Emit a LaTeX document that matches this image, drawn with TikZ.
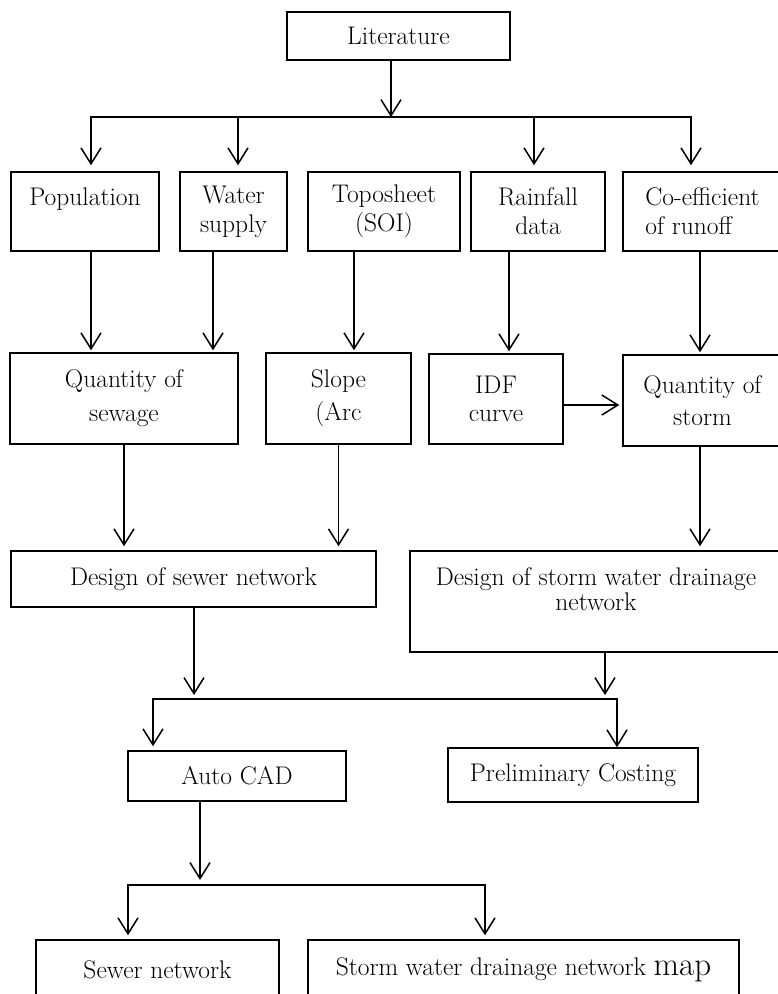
\documentclass[tikz,border=0pt]{standalone}
\usepackage{fontspec}
\usepackage{tikz}
\usetikzlibrary{positioning,arrows.meta}
\tikzset{
	stage/.style={draw=black,line width=1.5pt,inner sep=0pt,align=center,font=\fontsize{25.5}{29}\selectfont},
	flow/.style={-{Straight Barb[length=16pt,width=20pt]},line width=1.5pt},
	link/.style={line width=1.5pt,line cap=rect}
}

\begin{document}
\begin{tikzpicture}[x=1pt,y=-1pt]
				
				\useasboundingbox (0,0) rectangle (778,994);
				
				\node[stage,minimum width=223pt,minimum height=48pt] (L) at (398.5,36) {Literature};
				
				\node[stage,minimum width=148pt,minimum height=79pt] (PO) at (85,211.5) {Population\\\mbox{}};
				\node[stage,minimum width=107pt,minimum height=79pt] (WS) at (233.5,211.5) {Water\\supply};
				\node[stage,minimum width=152pt,minimum height=79pt] (TS) at (384,211.5) {Toposheet\\(SOI)};
				\node[stage,minimum width=134pt,minimum height=79pt] (RD) at (538,211.5) {Rainfall\\data};
				\node[stage,align=left,minimum width=159pt,minimum height=79pt] (CR) at (702.5,211.5) {Co-efficient\\of runoff};
				
				\node[stage,font=\fontsize{25.5}{34}\selectfont,minimum width=228pt,minimum height=91pt] (QS) at (124,398.5) {Quantity of\\sewage};
				\node[stage,font=\fontsize{25.5}{33}\selectfont,minimum width=145pt,minimum height=91pt] (SL) at (338.5,398.5) {Slope\\(Arc};
				\node[stage,font=\fontsize{25.5}{28}\selectfont,minimum width=134pt,minimum height=90pt] (IDF) at (496,399) {IDF\\curve};
				\node[stage,font=\fontsize{25.5}{32}\selectfont,minimum width=159pt,minimum height=91pt] (QST) at (702.5,400.5) {Quantity of\\storm};
				
				\node[stage,minimum width=365pt,minimum height=56pt] (DS) at (193.5,579) {Design of sewer network};
				\node[stage,font=\fontsize{25.5}{25}\selectfont,minimum width=372pt,minimum height=101pt] (DSW) at (596,601.5) {Design of storm water drainage\\network\\\mbox{}};
				
				\node[stage,minimum width=218pt,minimum height=50pt] (AC) at (237,776) {Auto CAD};
				\node[stage,minimum width=250pt,minimum height=54pt] (PC) at (573,775) {Preliminary Costing};
				
				\node[stage,minimum width=243pt,minimum height=60pt] (SN) at (157.5,970) {Sewer network};
				\node[stage,minimum width=431pt,minimum height=60pt] (SM) at (523.5,970) {Storm water drainage network {\fontsize{33}{33}\selectfont map}};
				
				\coordinate (J1) at (391,117);
				\coordinate (B1) at (91,117);
				\coordinate (B2) at (238,117);
				\coordinate (B3) at (534,117);
				\coordinate (B4) at (691,117);
				\coordinate (J2) at (194,699);
				\coordinate (K1) at (153,699);
				\coordinate (K2) at (617,699);
				\coordinate (M1) at (128,885);
				\coordinate (M2) at (485,885);
				
				\draw[flow] (L.south -| J1) -- (J1);
				\draw[link] (B1) -- (B4);
				\draw[flow,shorten >=6pt] (B1) -- (B1 |- PO.north);
				\draw[flow,shorten >=6pt] (B2) -- (B2 |- WS.north);
				\draw[flow,shorten >=6pt] (B3) -- (B3 |- RD.north);
				\draw[flow,shorten >=6pt] (B4) -- (B4 |- CR.north);
				
				\draw[flow,shorten >=2pt] ([xshift=6pt]PO.south) -- ([xshift=6pt]PO.south |- QS.north);
				\draw[flow,shorten >=2pt] ([xshift=-20.5pt]WS.south) -- ([xshift=-20.5pt]WS.south |- QS.north);
				\draw[flow,shorten >=2pt] ([xshift=-30pt]TS.south) -- ([xshift=-30pt]TS.south |- SL.north);
				\draw[flow,shorten >=2pt] ([xshift=-29pt]RD.south) -- ([xshift=-29pt]RD.south |- IDF.north);
				\draw[flow,shorten >=2pt] ([xshift=-2.5pt]CR.south) -- ([xshift=-2.5pt]CR.south |- QST.north);
				
				\draw[flow,shorten >=3pt] ([yshift=-6pt]IDF.east) -- ([yshift=-6pt]IDF.east -| QST.west);
				
				\draw[flow,shorten >=4pt] (QS.south) -- (QS.south |- DS.north);
				\draw[flow,shorten >=4pt] (SL.south) -- (SL.south |- DS.north);
				\draw[flow,shorten >=4pt] ([xshift=-2.5pt]QST.south) -- ([xshift=-2.5pt]QST.south |- DSW.north);
				
				\draw[flow,shorten >=4pt] (DS.south -| J2) -- (J2);
				\draw[flow,shorten >=4pt] ([xshift=9pt]DSW.south) -- ([xshift=9pt]DSW.south |- J2);
				\draw[link] (K1) -- (K2);
				\draw[flow,shorten >=4pt] (K1) -- (K1 |- AC.north);
				\draw[flow] (K2) -- (K2 |- PC.north);
				
				\draw[flow,shorten >=5pt] ([xshift=-37pt]AC.south) -- ([xshift=-37pt]AC.south |- M1);
				\draw[link] (M1) -- (M2);
				\draw[flow,shorten >=4pt] (M1) -- (M1 |- SN.north);
				\draw[flow,shorten >=4pt] (M2) -- (M2 |- SM.north);
				
			\end{tikzpicture}
\end{document}
